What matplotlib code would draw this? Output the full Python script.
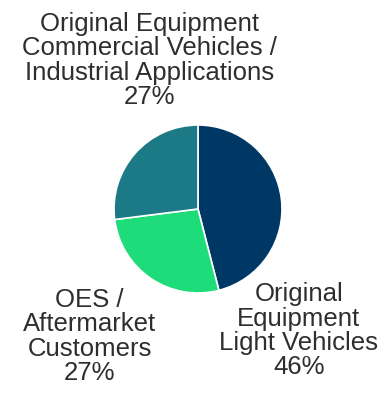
import matplotlib.pyplot as plt

# Datos del gráfico
segmentos = ["Original\nEquipment\nLight Vehicles",
             "OES /\nAftermarket\nCustomers",
             "Original Equipment\nCommercial Vehicles /\nIndustrial Applications"]
porcentajes = [46, 27, 27]
colores = ["#003865", "#1fdc7b", "#1b7a85"]

# posiciones de las etiquetas (coordenadas del eje, radio = 1)
pos_etiquetas = [(1.20, -1.45), (-1.29, -1.52), (-0.58, 1.77)]

fig = plt.figure(figsize=(3.87, 3.99), dpi=100)
ax = fig.add_axes([114 / 387, 106 / 399, 168 / 387, 168 / 399])

ax.pie(porcentajes, colors=colores, startangle=90, counterclock=False,
       wedgeprops={"edgecolor": "white", "linewidth": 1.2})
ax.set_xlim(-1, 1)
ax.set_ylim(-1, 1)
ax.set_aspect("equal")

for nombre, pct, (x, y) in zip(segmentos, porcentajes, pos_etiquetas):
    ax.text(x, y, f"{nombre}\n{pct}%", ha="center", va="center",
            fontsize=18.5, color="#2e2e2e", family="Liberation Sans",
            linespacing=1.02, clip_on=False)

fig.savefig("out.png", dpi=100)
